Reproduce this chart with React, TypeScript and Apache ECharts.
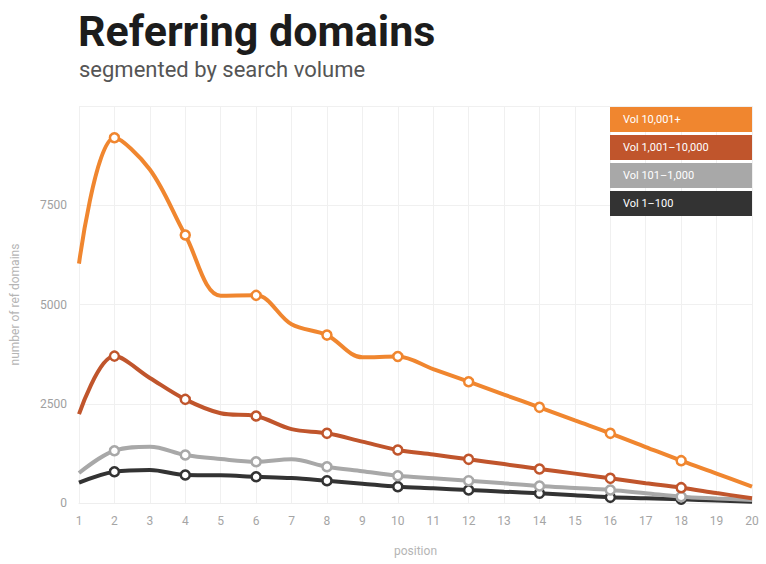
import React, { useEffect, useRef } from "react";
import * as echarts from "echarts";

const categories = ["1","2","3","4","5","6","7","8","9","10","11","12","13","14","15","16","17","18","19","20"];
const seriesNames = ["Vol 10,001+", "Vol 1,001\u201310,000", "Vol 101\u20131,000", "Vol 1\u2013100"];
const vol10001 = [6030, 9200, 8400, 6750, 5220, 5230, 4500, 4230, 3670, 3690, 3370, 3055, 2730, 2410, 2080, 1755, 1410, 1066, 740, 411];
const vol1001 = [2240, 3700, 3150, 2610, 2260, 2190, 1860, 1755, 1545, 1335, 1220, 1100, 980, 856, 740, 621, 500, 386, 250, 118];
const vol101 = [755, 1317, 1418, 1209, 1108, 1040, 1100, 914, 800, 687, 625, 562, 495, 428, 378, 327, 245, 160, 115, 75];
const vol1 = [511, 788, 831, 705, 697, 662, 630, 562, 487, 411, 370, 327, 285, 244, 195, 143, 118, 93, 60, 33];
const yTicks = [0, 2500, 5000, 7500, 10000];
const markerPositions = ["2","4","6","8","10","12","14","16","18"];
const colors = ["#F0862F", "#C0552C", "#A8A8A8", "#333333"];

export default function App() {
  const ref = useRef<HTMLDivElement>(null);
  useEffect(() => {
    if (!ref.current) return;
    const chart = echarts.init(ref.current, null, { renderer: "svg" });
    const allData = [vol10001, vol1001, vol101, vol1];
    const series = allData.map((arr, si) => ({
      name: seriesNames[si],
      type: "line",
      smooth: 0.35,
      z: 10 - si,
      data: arr.map((v, i) => ({
        value: v,
        symbol: markerPositions.includes(categories[i]) ? "circle" : "none",
      })),
      symbolSize: 9,
      lineStyle: { width: 4, color: colors[si] },
      itemStyle: { color: "#ffffff", borderColor: colors[si], borderWidth: 2.5 },
      emphasis: { disabled: true },
    }));
    chart.setOption({
      animation: false,
      textStyle: { fontFamily: "Roboto" },
      title: [
        {
          text: "Referring domains",
          left: 78,
          top: 9,
          padding: 0,
          textStyle: { fontFamily: "Roboto", fontWeight: "bold", fontSize: 43, color: "#1c1c1c" },
        },
        {
          text: "segmented by search volume",
          left: 79,
          top: 58,
          padding: 0,
          textStyle: { fontFamily: "Roboto", fontWeight: "normal", fontSize: 22, color: "#555555" },
        },
      ],
      legend: {
        orient: "vertical",
        left: 605,
        top: 107,
        padding: 0,
        icon: "none",
        itemWidth: 0,
        itemHeight: 0,
        itemGap: 3,
        selectedMode: false,
        data: seriesNames.map((n, i) => ({
          name: n,
          textStyle: {
            backgroundColor: colors[i],
            color: "#ffffff",
            fontFamily: "Roboto",
            fontSize: 11,
            width: 129,
            lineHeight: 13,
            padding: [6, 0, 6, 13],
          },
        })),
      },
      grid: { left: 79, right: 14, top: 106, bottom: 61 },
      xAxis: {
        type: "category",
        data: categories,
        boundaryGap: false,
        name: "position",
        nameLocation: "middle",
        nameGap: 42,
        nameTextStyle: { color: "#b5b5b5", fontSize: 12, fontFamily: "Roboto" },
        axisLine: { lineStyle: { color: "#eeeeee" } },
        axisTick: { show: false },
        axisLabel: { color: "#a5a5a5", fontSize: 12, margin: 12, fontFamily: "Roboto" },
        splitLine: { show: true, lineStyle: { color: "#f0f0f0", width: 1 } },
      },
      yAxis: {
        type: "value",
        min: yTicks[0],
        max: yTicks[yTicks.length - 1],
        interval: 2500,
        name: "number of ref domains",
        nameLocation: "middle",
        nameGap: 58,
        nameTextStyle: { color: "#b5b5b5", fontSize: 12, fontFamily: "Roboto" },
        axisLine: { show: false },
        axisTick: { show: false },
        axisLabel: {
          color: "#a0a0a0",
          fontSize: 12,
          margin: 12,
          showMaxLabel: false,
          fontFamily: "Roboto",
          formatter: (v: number) => String(v),
        },
        splitLine: { show: true, lineStyle: { color: "#f0f0f0", width: 1 } },
      },
      series,
    });
    return () => chart.dispose();
  }, []);
  return <div ref={ref} style={{ width: 766, height: 564, position: "absolute", left: 0, top: 0 }} />;
}
